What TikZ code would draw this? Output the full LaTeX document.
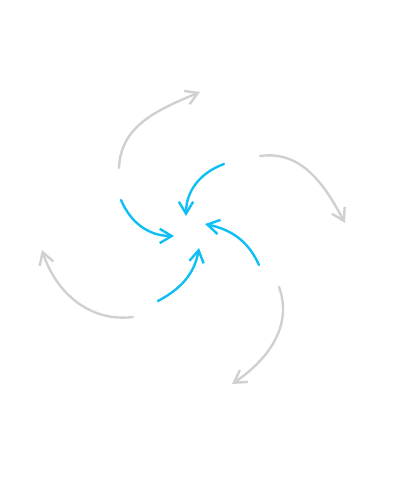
\documentclass[tikz,border=0pt]{standalone}
\usepackage{tikz}
\usetikzlibrary{arrows.meta}
\definecolor{swirlblue}{RGB}{15,190,245}
\definecolor{swirlgray}{RGB}{208,208,208}

\begin{document}
\begin{tikzpicture}[>={Straight Barb[length=3mm,width=3.6mm]},
  inner/.style={->,draw=swirlblue,line width=1.7pt,line cap=round},
  outer/.style={->,draw=swirlgray,line width=1.7pt,line cap=round}]
  \begin{scope}
\useasboundingbox (0,0) rectangle (10,12.5);

%inner arrows
\coordinate (p1) at (5.6,8.4);
\coordinate (p1_e) at (4.65,7.1);
\coordinate (p2) at (3.025,7.5);
\coordinate (p2_e) at (4.35,6.6);
\coordinate (p3) at (3.95,4.975);
\coordinate (p3_e) at (4.975,6.3);
\coordinate (p4) at (6.475,5.875);
\coordinate (p4_e) at (5.125,6.9);

\draw[inner] (p1) to [out=200,in=90] (p1_e);
\draw[inner] (p2) to [out=293,in=180] (p2_e);
\draw[inner] (p3) to [out=28,in=260] (p3_e);
\draw[inner] (p4) to [out=114,in=348] (p4_e);

%outer arrows
\coordinate (q1) at (2.975,8.3);
\coordinate (q1_e) at (5.0,10.2);
\coordinate (q2) at (6.5,8.6);
\coordinate (q2_e) at (8.625,6.925);
\coordinate (q3) at (6.975,5.325);
\coordinate (q3_e) at (5.8,2.9);
\coordinate (q4) at (3.325,4.575);
\coordinate (q4_e) at (1.05,6.25);

\draw[outer] (q1) to [out=88,in=203] (q1_e);
\draw[outer] (q2) to [out=8,in=118] (q2_e);
\draw[outer] (q3) to [out=290,in=34] (q3_e);
\draw[outer] (q4) to [out=187,in=288] (q4_e);
\end{scope}
\end{tikzpicture}
\end{document}
